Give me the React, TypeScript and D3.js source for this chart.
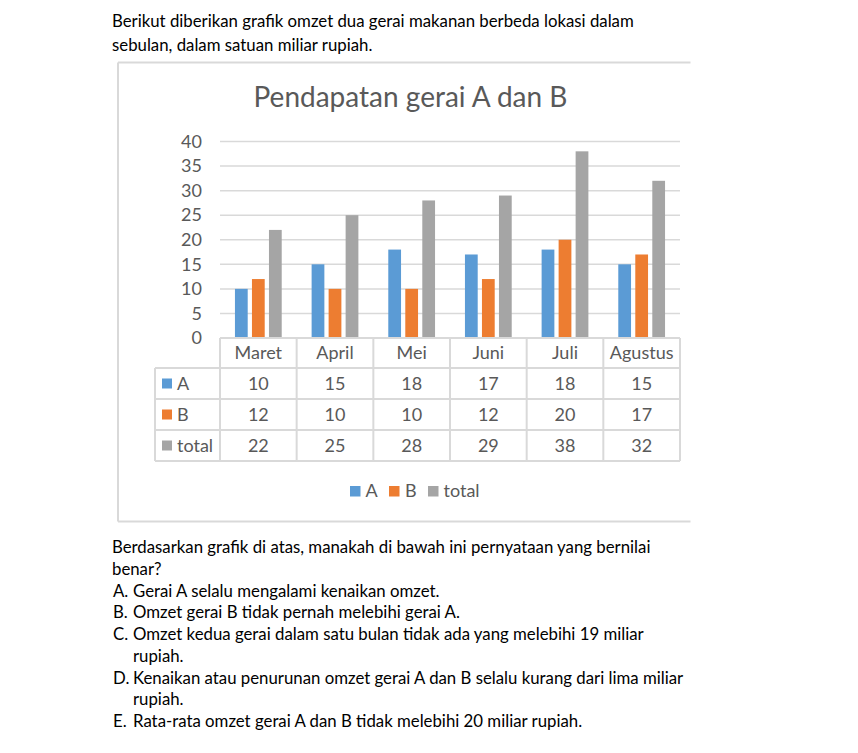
import React from "react";
import * as d3 from "d3";

const months = ["Maret", "April", "Mei", "Juni", "Juli", "Agustus"];
const seriesNames = ["A", "B", "total"];
const valuesA = [10, 15, 18, 17, 18, 15];
const valuesB = [12, 10, 10, 12, 20, 17];
const valuesTotal = [22, 25, 28, 29, 38, 32];
const yTicks = [0, 5, 10, 15, 20, 25, 30, 35, 40];
const colors = ["#5B9BD5", "#ED7D31", "#A5A5A5"];

const title = "Pendapatan gerai A dan B";
const introLines = [
  "Berikut diberikan grafik omzet dua gerai makanan berbeda lokasi dalam",
  "sebulan, dalam satuan miliar rupiah.",
];
const questionLines = [
  "Berdasarkan grafik di atas, manakah di bawah ini pernyataan yang bernilai",
  "benar?",
];
const options: { label: string; lines: string[] }[] = [
  { label: "A.", lines: ["Gerai A selalu mengalami kenaikan omzet."] },
  { label: "B.", lines: ["Omzet gerai B tidak pernah melebihi gerai A."] },
  { label: "C.", lines: ["Omzet kedua gerai dalam satu bulan tidak ada yang melebihi 19 miliar", "rupiah."] },
  { label: "D.", lines: ["Kenaikan atau penurunan omzet gerai A dan B selalu kurang dari lima miliar", "rupiah."] },
  { label: "E.", lines: ["Rata-rata omzet gerai A dan B tidak melebihi 20 miliar rupiah."] },
];

const FONT = "Lato, 'Open Sans', sans-serif";
const TXT = "#595959";
const GRID = "#D9D9D9";

export default function App() {
  const W = 858, H = 753;
  const plotL = 220, plotR = 680, y0 = 338, yTop = 141.5;
  const series = [valuesA, valuesB, valuesTotal];

  const y = d3.scaleLinear().domain([0, 40]).range([y0, yTop]);
  const xCol = d3.scaleBand<string>().domain(months).range([plotL, plotR]).padding(0);
  const xGroup = d3.scaleBand<string>().domain(months).range([plotL, plotR])
    .paddingInner(0.39).paddingOuter(0.195);
  const xInner = d3.scaleBand<string>().domain(seriesNames).range([0, xGroup.bandwidth()]).paddingInner(0.25);

  const rowTops = [338, 368, 399, 430, 461];
  const rowHeaderL = 155;
  const tableRows = [valuesA, valuesB, valuesTotal];

  // body text layout
  const bodySize = 16.8;
  const qBase = 553, qStep = 21.75;
  let lineIdx = 0;
  const bodyEls: React.ReactNode[] = [];
  questionLines.forEach((t, i) => {
    bodyEls.push(<text key={"q" + i} x={112} y={qBase + qStep * lineIdx}>{t}</text>);
    lineIdx++;
  });
  options.forEach((o, oi) => {
    bodyEls.push(<text key={"ol" + oi} x={113} y={qBase + qStep * lineIdx}>{o.label}</text>);
    o.lines.forEach((l, li) => {
      bodyEls.push(<text key={"o" + oi + "_" + li} x={133} y={qBase + qStep * lineIdx}>{l}</text>);
      lineIdx++;
    });
  });

  const legendItems = [
    { name: "A", sx: 350, tx: 365.5 },
    { name: "B", sx: 389, tx: 405 },
    { name: "total", sx: 428, tx: 443.5 },
  ];

  return (
    <svg width={W} height={H} style={{ position: "absolute", left: 0, top: 0, background: "#fff" }} fontFamily={FONT}>
      {/* intro text */}
      <g fontSize={bodySize} fill="#000">
        {introLines.map((t, i) => (
          <text key={i} x={112} y={27 + i * 23.5}>{t}</text>
        ))}
      </g>

      {/* chart frame */}
      <g stroke={GRID} strokeWidth={2} fill="none">
        <line x1={118} y1={62.5} x2={690.5} y2={62.5} />
        <line x1={118} y1={521.5} x2={690.5} y2={521.5} />
        <line x1={118} y1={62.5} x2={118} y2={521.5} />
      </g>

      <text x={410.5} y={106.5} textAnchor="middle" fontSize={28} fill={TXT}>{title}</text>

      {/* gridlines */}
      <g stroke={GRID} strokeWidth={1.5}>
        {yTicks.filter((t) => t > 0).map((t) => (
          <line key={t} x1={plotL} x2={plotR} y1={y(t)} y2={y(t)} />
        ))}
      </g>
      <g fontSize={18} fill={TXT} textAnchor="end">
        {yTicks.map((t) => (
          <text key={t} x={202} y={y(t)} dy="0.35em">{t}</text>
        ))}
      </g>

      {/* bars */}
      {series.map((vals, si) => (
        <g key={si} fill={colors[si]}>
          {vals.map((v, mi) => (
            <rect key={mi}
              x={(xGroup(months[mi]) as number) + (xInner(seriesNames[si]) as number)}
              y={y(v)} width={xInner.bandwidth()} height={y(0) - y(v)} />
          ))}
        </g>
      ))}

      {/* data table */}
      <g stroke={GRID} strokeWidth={2} fill="none">
        <line x1={plotL} x2={plotR} y1={rowTops[0]} y2={rowTops[0]} />
        {rowTops.slice(1).map((r, i) => (
          <line key={i} x1={rowHeaderL} x2={plotR} y1={r} y2={r} />
        ))}
        {months.map((m) => (
          <line key={m} x1={xCol(m) as number} x2={xCol(m) as number} y1={rowTops[0]} y2={rowTops[4]} />
        ))}
        <line x1={plotR} x2={plotR} y1={rowTops[0]} y2={rowTops[4]} />
        <line x1={rowHeaderL} x2={rowHeaderL} y1={rowTops[1]} y2={rowTops[4]} />
      </g>
      <g fontSize={18} fill={TXT} textAnchor="middle">
        {months.map((m) => (
          <text key={m} x={(xCol(m) as number) + xCol.bandwidth() / 2} y={(rowTops[0] + rowTops[1]) / 2} dy="0.35em">{m}</text>
        ))}
        {tableRows.map((vals, ri) =>
          vals.map((v, mi) => (
            <text key={ri + "_" + mi} x={(xCol(months[mi]) as number) + xCol.bandwidth() / 2}
              y={(rowTops[ri + 1] + rowTops[ri + 2]) / 2} dy="0.35em">{v}</text>
          ))
        )}
      </g>
      <g fontSize={18} fill={TXT}>
        {seriesNames.map((s, si) => {
          const cy = (rowTops[si + 1] + rowTops[si + 2]) / 2;
          return (
            <g key={s}>
              <rect x={162} y={cy - 5} width={10} height={10} fill={colors[si]} />
              <text x={177} y={cy} dy="0.35em">{s}</text>
            </g>
          );
        })}
      </g>

      {/* legend */}
      <g fontSize={18} fill={TXT}>
        {legendItems.map((l, i) => (
          <g key={l.name}>
            <rect x={l.sx} y={486} width={10.5} height={10.5} fill={colors[i]} />
            <text x={l.tx} y={491} dy="0.35em">{l.name}</text>
          </g>
        ))}
      </g>

      {/* question text */}
      <g fontSize={bodySize} fill="#000">{bodyEls}</g>
    </svg>
  );
}
